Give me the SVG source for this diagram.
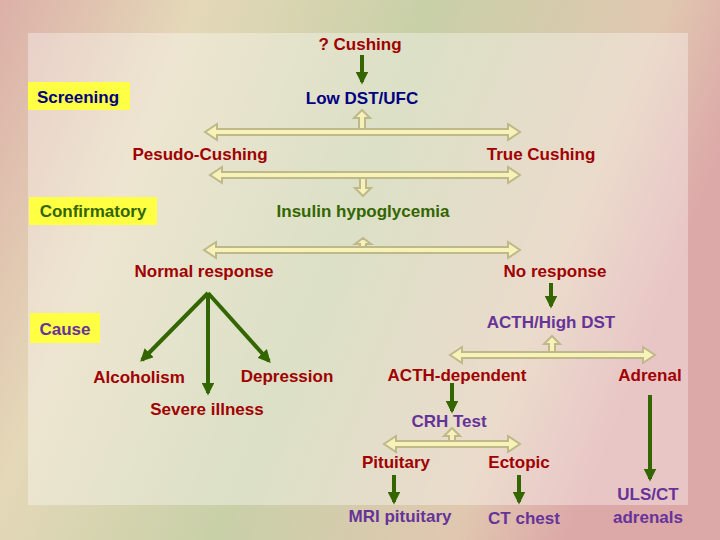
<svg xmlns="http://www.w3.org/2000/svg" width="720" height="540" viewBox="0 0 720 540">
<defs>
<linearGradient id="bg" x1="0" y1="0" x2="1" y2="0.3">
<stop offset="0" stop-color="#dcb0a8"/>
<stop offset="0.25" stop-color="#e4d8b8"/>
<stop offset="0.55" stop-color="#c8d0a8"/>
<stop offset="0.85" stop-color="#e0c8b0"/>
<stop offset="1" stop-color="#dca8a8"/>
</linearGradient>
<marker id="ah" viewBox="0 0 10 10" refX="8" refY="5" markerWidth="3.2" markerHeight="3.2" orient="auto" markerUnits="strokeWidth">
<path d="M0,0 L10,5 L0,10 z" fill="#336600"/>
</marker>
<style>
text{font-family:"Liberation Sans",Arial,sans-serif;font-weight:bold;font-size:17px;text-anchor:middle}
.r{fill:#a00000}.g{fill:#336600}.p{fill:#663399}.b{fill:#000080}
.hl{fill:#ffff44}
.da{fill:#f6f2b8;stroke:#bfb88a;stroke-width:2}
.ga{stroke:#336600;stroke-width:4;fill:none;marker-end:url(#ah)}
</style>
</defs>
<rect width="720" height="540" fill="url(#bg)"/>
<rect x="28" y="33" width="660" height="472" fill="#ffffff" opacity="0.35"/>
<g id="connectors">
<polygon class="da" points="205,132 217,124 217,129 508,129 508,124 520,132 508,140 508,135 217,135 217,140"/>
<polygon class="da" points="362,110 370,118 365,118 365,129 359,129 359,118 354,118"/>
<polygon class="da" points="210,175 222,167 222,172 508,172 508,167 520,175 508,183 508,178 222,178 222,183"/>
<polygon class="da" points="363,196 371,188 366,188 366,178 360,178 360,188 355,188"/>
<polygon class="da" points="204,250 216,242 216,247 508,247 508,242 520,250 508,258 508,253 216,253 216,258"/>
<polygon class="da" points="363,238 371,244 366,244 366,247 360,247 360,244 355,244"/>
<polygon class="da" points="450,355 462,347 462,352 643,352 643,347 655,355 643,363 643,358 462,358 462,363"/>
<polygon class="da" points="552,336 560,344 555,344 555,352 549,352 549,344 544,344"/>
<polygon class="da" points="384,444 396,436 396,441 508,441 508,436 520,444 508,452 508,447 396,447 396,452"/>
<polygon class="da" points="452,428 460,436 455,436 455,441 449,441 449,436 444,436"/>
<line class="ga" x1="362" y1="55" x2="362" y2="82"/>
<line class="ga" x1="208" y1="293" x2="142" y2="360"/>
<line class="ga" x1="208" y1="293" x2="208" y2="393"/>
<line class="ga" x1="208" y1="293" x2="269" y2="361"/>
<line class="ga" x1="551" y1="283" x2="551" y2="306"/>
<line class="ga" x1="452" y1="383" x2="452" y2="411"/>
<line class="ga" x1="650" y1="395" x2="650" y2="479"/>
<line class="ga" x1="394" y1="475" x2="394" y2="502"/>
<line class="ga" x1="519" y1="475" x2="519" y2="502"/>
</g>
<g id="n-cushing"><text class="r" x="360" y="50">? Cushing</text></g>
<g id="n-screening"><rect class="hl" x="28" y="82" width="102" height="28"/><text class="b" x="78" y="103">Screening</text></g>
<g id="n-lowdst"><text class="b" x="362" y="104">Low DST/UFC</text></g>
<g id="n-pseudo"><text class="r" x="200" y="160">Pesudo-Cushing</text></g>
<g id="n-true"><text class="r" x="541" y="160">True Cushing</text></g>
<g id="n-confirm"><rect class="hl" x="29" y="197" width="128" height="28"/><text class="g" x="93" y="217">Confirmatory</text></g>
<g id="n-insulin"><text class="g" x="363" y="217">Insulin hypoglycemia</text></g>
<g id="n-normal"><text class="r" x="204" y="277">Normal response</text></g>
<g id="n-noresp"><text class="r" x="555" y="277">No response</text></g>
<g id="n-cause"><rect class="hl" x="30" y="313" width="70" height="30"/><text class="p" x="65" y="335">Cause</text></g>
<g id="n-acth"><text class="p" x="551" y="328">ACTH/High DST</text></g>
<g id="n-alcohol"><text class="r" x="139" y="383">Alcoholism</text></g>
<g id="n-depression"><text class="r" x="287" y="382">Depression</text></g>
<g id="n-severe"><text class="r" x="207" y="415">Severe illness</text></g>
<g id="n-acthdep"><text class="r" x="457" y="381">ACTH-dependent</text></g>
<g id="n-adrenal"><text class="r" x="650" y="381">Adrenal</text></g>
<g id="n-crh"><text class="p" x="449" y="427">CRH Test</text></g>
<g id="n-pituitary"><text class="r" x="396" y="468">Pituitary</text></g>
<g id="n-ectopic"><text class="r" x="519" y="468">Ectopic</text></g>
<g id="n-mri"><text class="p" x="400" y="522">MRI pituitary</text></g>
<g id="n-ctchest"><text class="p" x="524" y="524">CT chest</text></g>
<g id="n-uls"><text class="p" x="648" y="500">ULS/CT</text><text class="p" x="648" y="523">adrenals</text></g>
</svg>
